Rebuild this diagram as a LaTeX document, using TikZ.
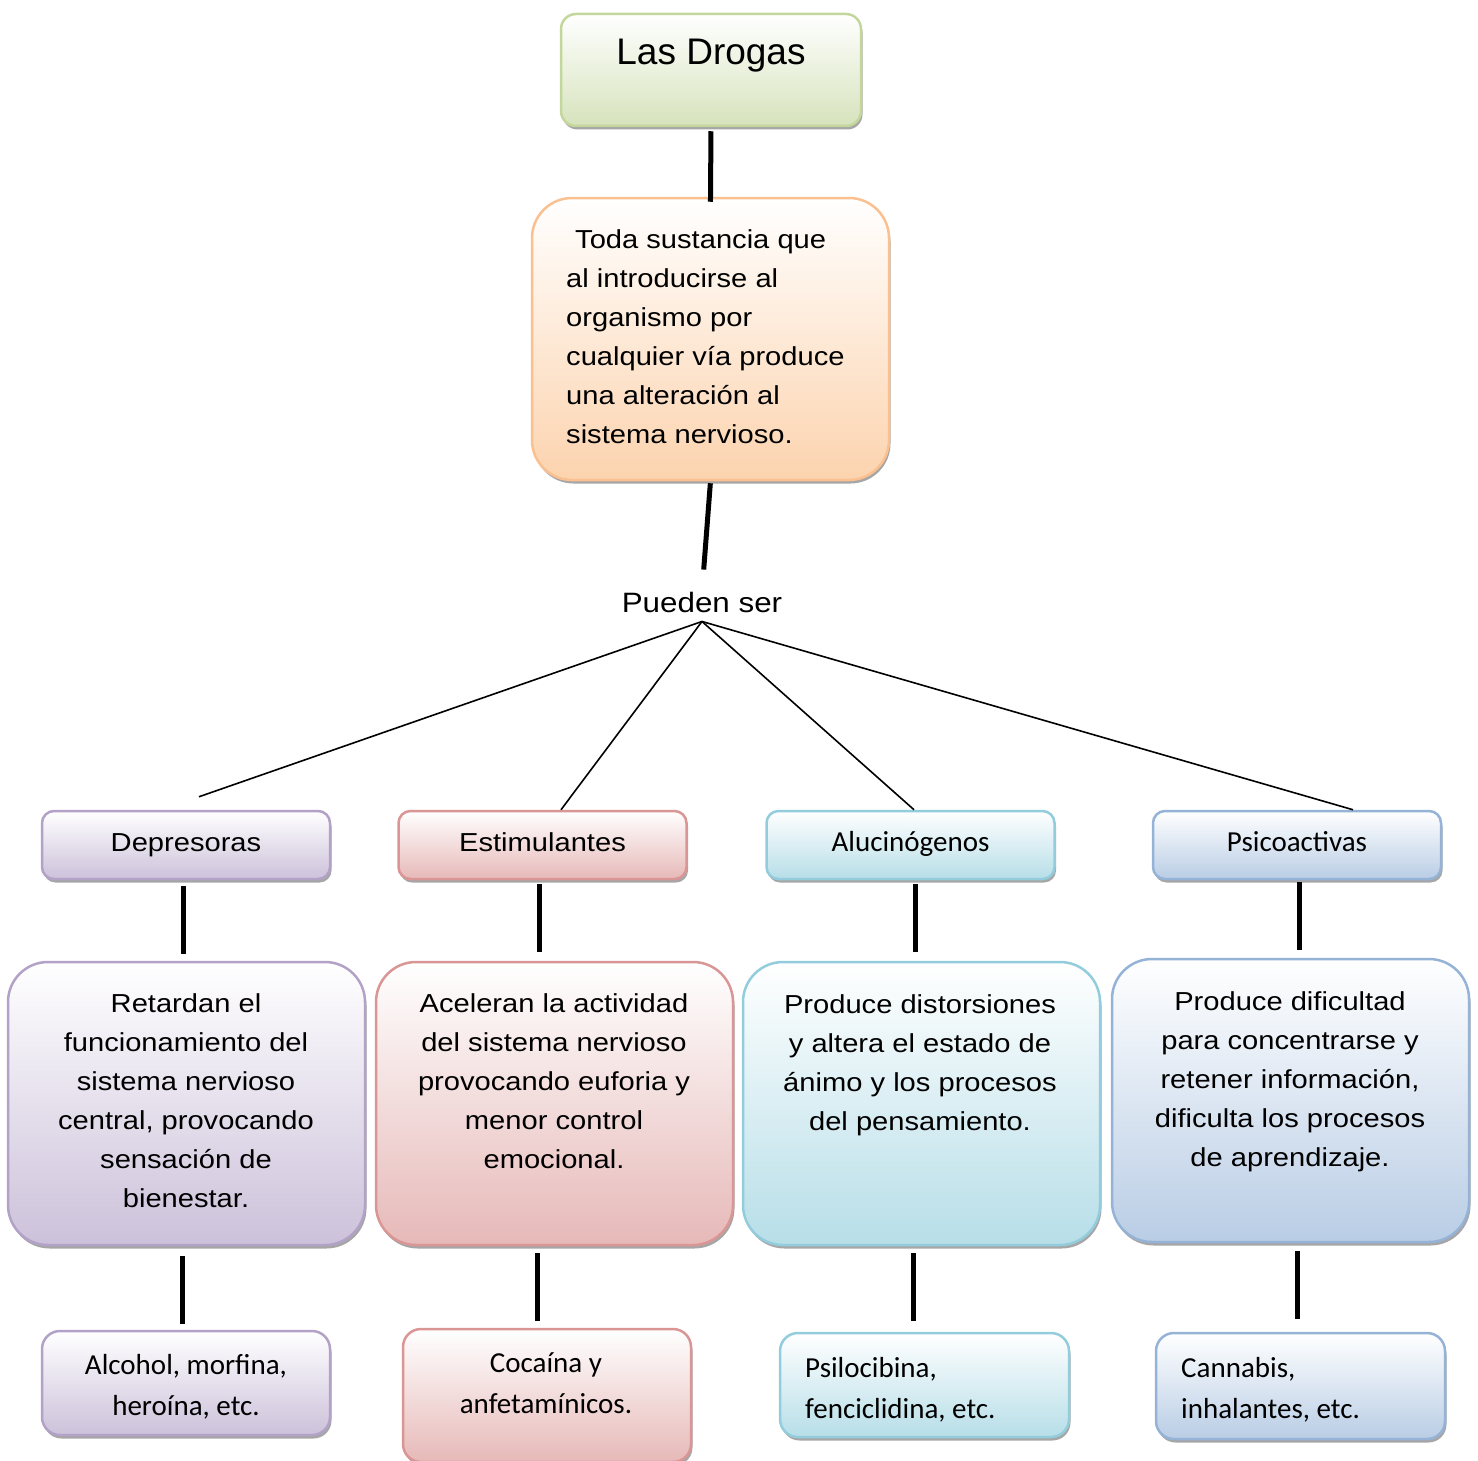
\documentclass[tikz,border=0pt]{standalone}
\usepackage{fontspec}
\setmainfont{Liberation Sans}[FakeStretch=1.12]
\newfontfamily\titlefont{Liberation Sans}
\newfontfamily\calfont{Carlito}
\usetikzlibrary{calc,shadows}
\definecolor{greenB}{HTML}{C3D69B}\definecolor{greenF}{HTML}{D6E3BC}
\definecolor{orangeB}{HTML}{FAC08F}\definecolor{orangeF}{HTML}{FCD3AE}
\definecolor{purpleB}{HTML}{B3A2C7}\definecolor{purpleF}{HTML}{CCC1DA}
\definecolor{redB}{HTML}{D99694}\definecolor{redF}{HTML}{E6B9B8}
\definecolor{aquaB}{HTML}{93CDDD}\definecolor{aquaF}{HTML}{B7DEE8}
\definecolor{blueB}{HTML}{95B3D7}\definecolor{blueF}{HTML}{B9CDE5}
\begin{document}
\begin{tikzpicture}[x=1pt,y=-1pt,
  basebox/.style={line width=2.5pt, inner sep=0pt,
    drop shadow={shadow xshift=1.5pt,shadow yshift=-3.5pt,fill=black,opacity=0.35}},
  colbox/.style={basebox, draw=#1B, top color=white, bottom color=#1F},
  levelbox/.style={minimum width=288pt, minimum height=68pt, rounded corners=12pt, text height=19pt, text depth=6pt},
  descbox/.style={minimum width=357pt, minimum height=283pt, rounded corners=40pt},
  botbox/.style={minimum width=288pt, minimum height=104pt, rounded corners=18pt},
  txt/.style={inner sep=0pt, align=center, font=\fontsize{26}{39}\selectfont},
  ctxt/.style={inner sep=0pt, font=\calfont\fontsize{29}{41}\selectfont},
  conn/.style={line width=5pt},
  fan/.style={line width=1.6pt}]
\useasboundingbox (0,0) rectangle (1478,1461);

% boxes
\node[colbox=green, minimum width=300pt, minimum height=112pt, rounded corners=15pt] (drogas) at (711,70) {};
\node[colbox=orange, minimum width=357pt, minimum height=282pt, rounded corners=40pt] (def) at (710.5,339) {};

\node[colbox=purple, levelbox, font=\fontsize{26}{30}\selectfont] (dep) at (186,845) {Depresoras};
\node[colbox=red, levelbox, font=\fontsize{26}{30}\selectfont] (est) at (542.5,845) {Estimulantes};
\node[colbox=aqua, levelbox, font=\calfont\fontsize{29}{30}\selectfont] (alu) at (910.5,845) {Alucinógenos};
\node[colbox=blue, levelbox, font=\calfont\fontsize{29}{30}\selectfont] (psi) at (1297,845) {Psicoactivas};

\node[colbox=purple, descbox] (depd) at (186.5,1103.5) {};
\node[colbox=red, descbox] (estd) at (554.5,1103.5) {};
\node[colbox=aqua, descbox] (alud) at (921.5,1103.5) {};
\node[colbox=blue, descbox] (psid) at (1290.5,1100.5) {};

\node[colbox=purple, botbox] (depb) at (186,1383) {};
\node[colbox=red, botbox, minimum height=133pt] (estb) at (547,1395.5) {};
\node[colbox=aqua, botbox, minimum width=289pt] (alub) at (924.5,1385) {};
\node[colbox=blue, botbox, minimum width=289pt, minimum height=106pt] (psib) at (1300.5,1386) {};

% texts (anchor base = baseline of the last line)
\node[inner sep=0pt, font=\titlefont\fontsize{37}{44}\selectfont, anchor=base] (drogast) at (711,65) {Las Drogas};
\node[txt, align=left, anchor=base west] (deft) at (566,443) {\hspace*{9pt}Toda sustancia que\\al introducirse al\\organismo por\\cualquier v\'{\i}a produce\\una alteración al\\sistema nervioso.};
\node[inner sep=0pt, font=\fontsize{28}{34}\selectfont, anchor=base] (ps) at (702,612) {Pueden ser};

\node[txt, anchor=base] (depdt) at (186,1207) {Retardan el\\funcionamiento del\\sistema nervioso\\central, provocando\\sensación de\\bienestar.};
\node[txt, anchor=base] (estdt) at (554,1168) {Aceleran la actividad\\del sistema nervioso\\provocando euforia y\\menor control\\emocional.};
\node[txt, anchor=base] (aludt) at (920,1130) {Produce distorsiones\\y altera el estado de\\ánimo y los procesos\\del pensamiento.};
\node[txt, anchor=base] (psidt) at (1290,1166) {Produce dificultad\\para concentrarse y\\retener información,\\dificulta los procesos\\de aprendizaje.};

\node[ctxt, align=center, anchor=base] (depbt) at (186,1415) {Alcohol, morfina,\\heroína, etc.};
\node[ctxt, align=center, anchor=base] (estbt) at (546,1413) {Cocaína y\\anfetamínicos.};
\node[ctxt, align=left, anchor=base west] (alubt) at (805,1418) {Psilocibina,\\fenciclidina, etc.};
\node[ctxt, align=left, anchor=base west] (psibt) at (1181,1418) {Cannabis,\\inhalantes, etc.};

% connectors
\draw[conn, shorten <=4pt, shorten >=-5pt] (drogas.south) -- (def.north);
\draw[conn, shorten <=2pt, shorten >=22pt] (def.south) -- (ps.north);
\coordinate (hub) at ($(ps.south)+(0,9)$);
\coordinate (fdep) at ($(dep.north)+(13,-13)$);
\coordinate (fest) at ($(est.north)+(18.5,0)$);
\coordinate (falu) at ($(alu.north)+(3.5,0)$);
\coordinate (fpsi) at ($(psi.north)+(56,0)$);
\draw[fan] (hub) -- (fdep);
\draw[fan] (hub) -- (fest);
\draw[fan] (hub) -- (falu);
\draw[fan] (hub) -- (fpsi);

\coordinate (c1) at ($(dep.south)+(-3,0)$);
\coordinate (c2) at ($(est.south)+(-3.5,0)$);
\coordinate (c3) at ($(alu.south)+(4.5,0)$);
\coordinate (c4) at ($(psi.south)+(2,0)$);
\draw[conn, shorten <=6pt, shorten >=7pt] (c1) -- (c1 |- depd.north);
\draw[conn, shorten <=4pt, shorten >=9pt] (c2) -- (c2 |- estd.north);
\draw[conn, shorten <=4pt, shorten >=9pt] (c3) -- (c3 |- alud.north);
\draw[conn, shorten <=2pt, shorten >=8pt] (c4) -- (c4 |- psid.north);

\coordinate (b1) at ($(depb.north)+(-4,0)$);
\coordinate (b2) at ($(estb.north)+(-10,0)$);
\coordinate (b3) at ($(alub.north)+(-11.5,0)$);
\coordinate (b4) at ($(psib.north)+(-3.5,0)$);
\draw[conn, shorten <=10pt, shorten >=6pt] (b1 |- depd.south) -- (b1);
\draw[conn, shorten <=7pt, shorten >=7pt] (b2 |- estd.south) -- (b2);
\draw[conn, shorten <=7pt, shorten >=11pt] (b3 |- alud.south) -- (b3);
\draw[conn, shorten <=8pt, shorten >=13pt] (b4 |- psid.south) -- (b4);
\end{tikzpicture}
\end{document}
